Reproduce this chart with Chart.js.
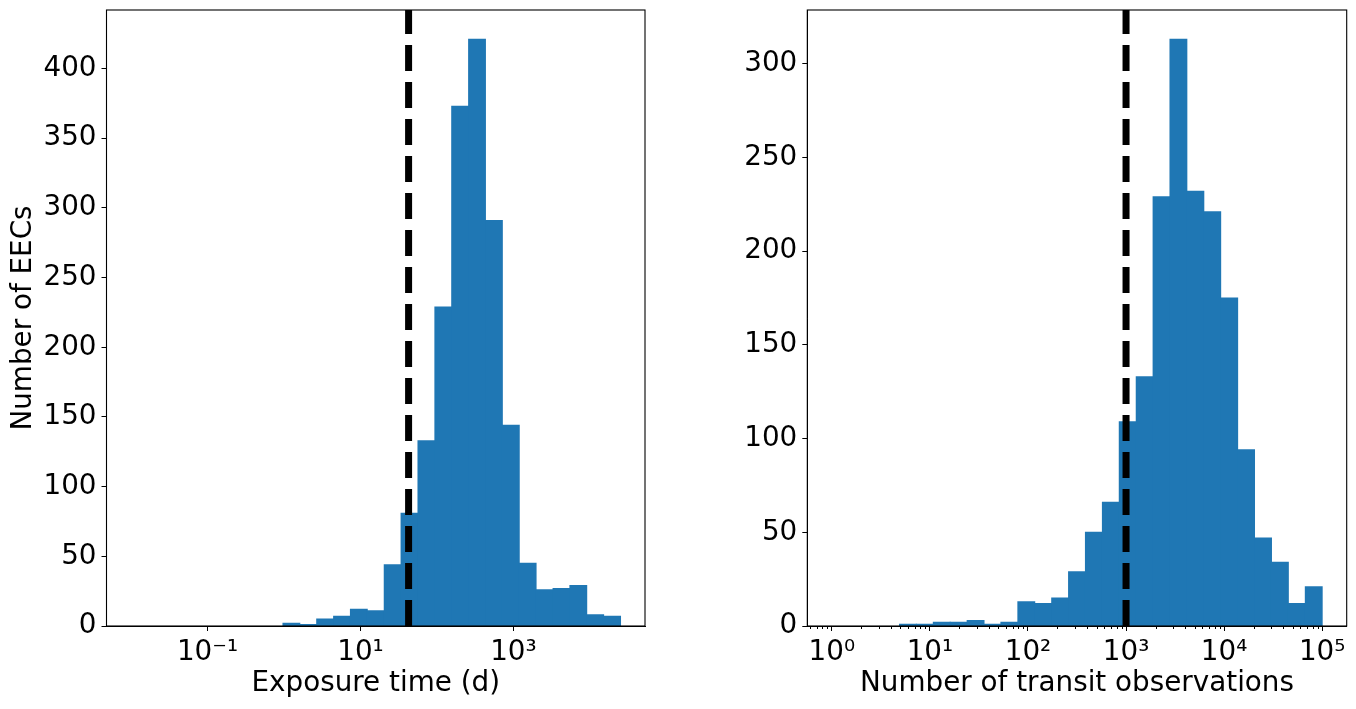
<!DOCTYPE html>
<html>
<head>
<meta charset="utf-8">
<script src="https://cdn.jsdelivr.net/npm/chart.js@4.4.1/dist/chart.umd.min.js"></script>
<style>
  html, body { margin: 0; padding: 0; background: #fff; }
  #wrap { position: relative; width: 1356px; height: 709px; }
  canvas { position: absolute; top: 0; }
</style>
</head>
<body>
<div id="wrap">
  <canvas id="leftChart" width="680" height="709" style="left:0"></canvas>
  <canvas id="rightChart" width="676" height="709" style="left:680px"></canvas>
</div>
<script>
// left panel: exposure time histogram (log10 bin centres, days)
var expBinCenters = [0.097, 0.317, 0.538, 0.759, 0.979, 1.200, 1.421, 1.641, 1.862, 2.083,
                     2.303, 2.524, 2.745, 2.966, 3.186, 3.407, 3.628, 3.848, 4.069, 4.290];
var expCounts = [2, 1, 5, 7, 12, 11, 44, 81, 133, 229, 373, 421, 291, 144, 45, 26, 27, 29, 8, 7];
var expTicks = [-1, 1, 3];
var expTickLabels = ["10\u207B\u00B9", "10\u00B9", "10\u00B3"];
var expThreshold = 42.6;

// right panel: number of transit observations (log10 bin centres)
var obsBinCenters = [0.776, 0.948, 1.121, 1.293, 1.466, 1.638, 1.810, 1.983, 2.155, 2.328,
                     2.500, 2.672, 2.845, 3.017, 3.190, 3.362, 3.534, 3.707, 3.879, 4.052,
                     4.224, 4.397, 4.569, 4.741, 4.914];
var obsCounts = [1, 1, 2, 2, 3, 1, 2, 13, 12, 15, 29, 50, 66, 109, 133, 229, 313, 232, 221, 175,
                 94, 47, 34, 12, 21];
var obsTicks = [0, 1, 2, 3, 4, 5];
var obsTickLabels = ["10\u2070", "10\u00B9", "10\u00B2", "10\u00B3", "10\u2074", "10\u2075"];
var obsMinorTicks = [0.6, 0.7, 0.8, 0.9,
  2, 3, 4, 5, 6, 7, 8, 9, 20, 30, 40, 50, 60, 70, 80, 90,
  200, 300, 400, 500, 600, 700, 800, 900, 2000, 3000, 4000, 5000, 6000, 7000, 8000, 9000,
  20000, 30000, 40000, 50000, 60000, 70000, 80000, 90000];
var obsThreshold = 1000;

var yTicksLeft = [0, 50, 100, 150, 200, 250, 300, 350, 400];
var yTicksRight = [0, 50, 100, 150, 200, 250, 300];

var FONT = "DejaVu Sans";
var BLUE = "#1f77b4";

var histExtras = {
  id: "histExtras",
  afterDatasetsDraw: function(chart, args, opts) {
    var ctx = chart.ctx, a = chart.chartArea, x = chart.scales.x;
    ctx.save();
    // dashed threshold
    var px = x.getPixelForValue(Math.log10(opts.threshold));
    ctx.strokeStyle = "#000";
    ctx.lineWidth = 7;
    ctx.setLineDash([26, 11]);
    ctx.beginPath();
    ctx.moveTo(px, a.bottom);
    ctx.lineTo(px, a.top);
    ctx.stroke();
    ctx.setLineDash([]);
    // minor ticks
    ctx.lineWidth = 1;
    var minor = opts.minorTicks ? opts.minorTicks() : [];
    minor.forEach(function(v) {
      var p = Math.round(x.getPixelForValue(Math.log10(v))) + 0.5;
      if (p < a.left || p > a.right) return;
      ctx.beginPath();
      ctx.moveTo(p, a.bottom);
      ctx.lineTo(p, a.bottom + 3);
      ctx.stroke();
    });
    // frame
    ctx.lineWidth = 1.1;
    ctx.strokeRect(a.left, a.top, a.right - a.left, a.bottom - a.top);
    ctx.restore();
  }
};

function makeHist(id, centers, counts, opt) {
  var ctx = document.getElementById(id).getContext("2d");
  var pts = centers.map(function(c, i) { return { x: c, y: counts[i] }; });
  return new Chart(ctx, {
    type: "bar",
    data: {
      datasets: [{
        data: pts,
        backgroundColor: BLUE,
        borderWidth: 0,
        inflateAmount: 0.5,
        barPercentage: 1,
        categoryPercentage: 1
      }]
    },
    options: {
      responsive: false,
      animation: false,
      devicePixelRatio: 1,
      layout: { padding: { top: 10, right: opt.padRight, left: 0, bottom: 0 } },
      plugins: {
        legend: { display: false },
        tooltip: { enabled: false },
        histExtras: {
          threshold: opt.threshold,
          minorTicks: function() { return opt.minor; }
        }
      },
      scales: {
        x: {
          type: "linear",
          offset: false,
          min: opt.xmin,
          max: opt.xmax,
          afterFit: function(s) {
            s.height = 83;
            s.paddingLeft = 0;
            s.paddingRight = 0;
          },
          afterBuildTicks: function(s) {
            s.ticks = opt.xTicks.map(function(v) { return { value: v }; });
          },
          grid: {
            offset: false,
            drawOnChartArea: false,
            drawTicks: true,
            tickLength: 5,
            tickWidth: 1,
            tickColor: "#000"
          },
          border: { display: true, color: "#000", width: 1 },
          ticks: {
            padding: 5,
            color: "#000",
            maxRotation: 0,
            autoSkip: false,
            font: { family: FONT, size: 27.8 },
            callback: function(v) {
              var i = opt.xTicks.indexOf(v);
              return i >= 0 ? opt.xLabels[i] : "";
            }
          },
          title: {
            display: true,
            text: opt.xTitle,
            color: "#000",
            font: { family: FONT, size: 27.8 },
            padding: { top: 0, bottom: 9 }
          }
        },
        y: {
          min: 0,
          max: opt.ymax,
          afterFit: function(s) {
            s.width = opt.yWidth;
            s.paddingTop = 0;
            s.paddingBottom = 0;
          },
          afterBuildTicks: function(s) {
            s.ticks = opt.yTicks.map(function(v) { return { value: v }; });
          },
          grid: { offset: false, drawOnChartArea: false, drawTicks: true, tickLength: 5, tickColor: "#000", tickWidth: 1 },
          border: { display: true, color: "#000", width: 1 },
          ticks: {
            padding: 5,
            color: "#000",
            font: { family: FONT, size: 27.8 }
          },
          title: {
            display: !!opt.yTitle,
            text: opt.yTitle || "",
            color: "#000",
            font: { family: FONT, size: 27.8 },
            padding: { top: 7, bottom: 0 }
          }
        }
      }
    },
    plugins: [histExtras]
  });
}

makeHist("leftChart", expBinCenters, expCounts, {
  xmin: -2.32, xmax: 4.72, ymax: 442.05, yWidth: 106.5, padRight: 35,
  xTicks: expTicks, xLabels: expTickLabels, yTicks: yTicksLeft,
  xTitle: "Exposure time (d)", yTitle: "Number of EECs",
  threshold: expThreshold, minor: []
});

makeHist("rightChart", obsBinCenters, obsCounts, {
  xmin: -0.25, xmax: 5.25, ymax: 328.65, yWidth: 127.3, padRight: 9.3,
  xTicks: obsTicks, xLabels: obsTickLabels, yTicks: yTicksRight,
  xTitle: "Number of transit observations",
  threshold: obsThreshold, minor: obsMinorTicks
});
</script>
</body>
</html>
